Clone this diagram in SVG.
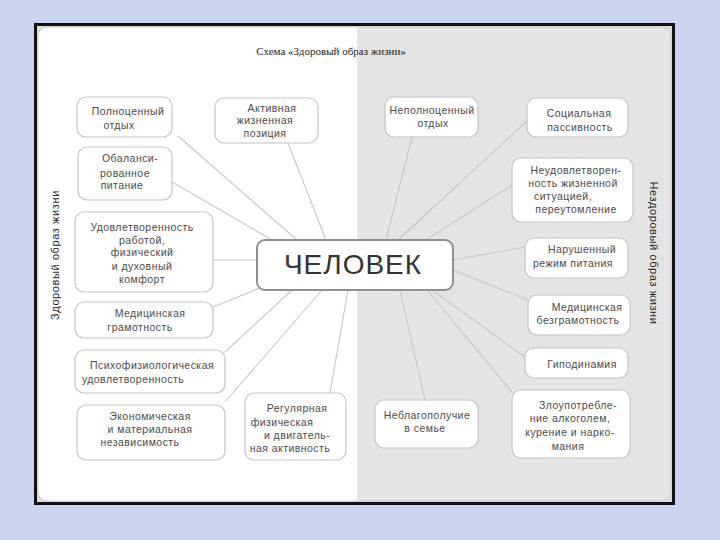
<svg xmlns="http://www.w3.org/2000/svg" width="720" height="540" viewBox="0 0 720 540">
<defs>
<style>
.box{fill:#ffffff;stroke:#c4c4c4;stroke-width:1.2}
.t{font-family:"Liberation Sans",Arial,sans-serif;font-size:10.5px;fill:#4a4a4a;letter-spacing:0.45px;text-anchor:middle}
.side{font-family:"Liberation Sans",Arial,sans-serif;font-size:11px;fill:#2a2a2a;text-anchor:middle;letter-spacing:0.6px}
.c line{stroke:#c6c6c6;stroke-width:1.1}
</style>
<clipPath id="inner"><rect x="38" y="27" width="633" height="474" rx="9"/></clipPath>
</defs>
<rect x="0" y="0" width="720" height="540" fill="#c9d4f0"/>
<rect x="35.5" y="24.5" width="638" height="479" fill="#dcdcdc" stroke="#111111" stroke-width="3"/>
<g clip-path="url(#inner)">
<rect x="38" y="27" width="633" height="474" fill="#ffffff"/>
<rect x="357" y="27" width="314" height="474" fill="#e4e4e4"/>
</g>
<rect x="38" y="27" width="633" height="474" rx="9" fill="none" stroke="#c8c8c8" stroke-width="1"/>
<text x="331" y="55" style="font-family:'Liberation Serif',serif;font-size:11px;fill:#222" text-anchor="middle">Схема «Здоровый образ жизни»</text>
<text class="side" transform="translate(59,255) rotate(-90)">Здоровый образ жизни</text>
<text class="side" transform="translate(650,253) rotate(90)">Нездоровый образ жизни</text>
<g class="c" id="connectors">
<line x1="178" y1="136" x2="297" y2="240"/>
<line x1="288" y1="143" x2="326" y2="240"/>
<line x1="172" y1="182" x2="272" y2="240"/>
<line x1="213" y1="260" x2="257" y2="260"/>
<line x1="213" y1="307" x2="260" y2="288"/>
<line x1="225" y1="352" x2="292" y2="290"/>
<line x1="225" y1="402" x2="322" y2="290"/>
<line x1="330" y1="393" x2="348" y2="290"/>
<line x1="412" y1="137" x2="386" y2="240"/>
<line x1="527" y1="121" x2="398" y2="240"/>
<line x1="512" y1="185" x2="426" y2="240"/>
<line x1="453" y1="260" x2="525" y2="247"/>
<line x1="453" y1="270" x2="528" y2="300"/>
<line x1="432" y1="290" x2="525" y2="357"/>
<line x1="427" y1="290" x2="512" y2="392"/>
<line x1="400" y1="290" x2="425" y2="400"/>
</g>
<g id="n-center">
<rect x="257" y="240" width="196" height="50" rx="8" fill="#ffffff" stroke="#909090" stroke-width="2"/>
<text x="353" y="274" style="font-family:'Liberation Sans',Arial,sans-serif;font-size:28px;fill:#333;letter-spacing:1px" text-anchor="middle">ЧЕЛОВЕК</text>
</g>
<g id="n1"><rect class="box" x="77" y="97" width="95" height="40" rx="9"/>
<text class="t" x="128" y="115">Полноценный</text><text class="t" x="119" y="129">отдых</text></g>
<g id="n2"><rect class="box" x="215" y="98" width="103" height="45" rx="9"/>
<text class="t" x="272" y="112">Активная</text><text class="t" x="265" y="124">жизненная</text><text class="t" x="265" y="137">позиция</text></g>
<g id="n3"><rect class="box" x="78" y="147" width="94" height="53" rx="9"/>
<text class="t" x="130" y="162">Обаланси-</text><text class="t" x="125" y="177">рованное</text><text class="t" x="122" y="189">питание</text></g>
<g id="n4"><rect class="box" x="75" y="212" width="138" height="80" rx="9"/>
<text class="t" x="142" y="231">Удовлетворенность</text><text class="t" x="142" y="244">работой,</text><text class="t" x="142" y="256">физический</text><text class="t" x="142" y="270">и духовный</text><text class="t" x="142" y="283">комфорт</text></g>
<g id="n5"><rect class="box" x="75" y="302" width="138" height="36" rx="9"/>
<text class="t" x="150" y="317">Медицинская</text><text class="t" x="140" y="331">грамотность</text></g>
<g id="n6"><rect class="box" x="75" y="350" width="150" height="43" rx="9"/>
<text class="t" x="152" y="369">Психофизиологическая</text><text class="t" x="133" y="383">удовлетворенность</text></g>
<g id="n7"><rect class="box" x="77" y="405" width="148" height="55" rx="9"/>
<text class="t" x="150" y="420">Экономическая</text><text class="t" x="150" y="433">и материальная</text><text class="t" x="140" y="446">независимость</text></g>
<g id="n8"><rect class="box" x="245" y="393" width="101" height="67" rx="9"/>
<text class="t" x="297" y="412">Регулярная</text><text class="t" x="282" y="426">физическая</text><text class="t" x="297" y="439">и двигатель-</text><text class="t" x="290" y="452">ная активность</text></g>
<g id="n9"><rect class="box" x="385" y="97" width="93" height="40" rx="9"/>
<text class="t" x="432" y="114">Неполноценный</text><text class="t" x="433" y="127">отдых</text></g>
<g id="n10"><rect class="box" x="527" y="98" width="101" height="39" rx="9"/>
<text class="t" x="579" y="117">Социальная</text><text class="t" x="580" y="131">пассивность</text></g>
<g id="n11"><rect class="box" x="512" y="158" width="121" height="64" rx="9"/>
<text class="t" x="576" y="174">Неудовлетворен-</text><text class="t" x="573" y="187">ность жизненной</text><text class="t" x="563" y="200">ситуацией,</text><text class="t" x="576" y="213">переутомление</text></g>
<g id="n12"><rect class="box" x="525" y="238" width="103" height="40" rx="9"/>
<text class="t" x="582" y="253">Нарушенный</text><text class="t" x="573" y="267">режим питания</text></g>
<g id="n13"><rect class="box" x="528" y="295" width="102" height="40" rx="9"/>
<text class="t" x="587" y="311">Медицинская</text><text class="t" x="578" y="324">безграмотность</text></g>
<g id="n14"><rect class="box" x="525" y="348" width="103" height="30" rx="9"/>
<text class="t" x="582" y="368">Гиподинамия</text></g>
<g id="n15"><rect class="box" x="512" y="390" width="118" height="68" rx="9"/>
<text class="t" x="578" y="409">Злоупотребле-</text><text class="t" x="570" y="422">ние алкоголем,</text><text class="t" x="570" y="436">курение и нарко-</text><text class="t" x="568" y="450">мания</text></g>
<g id="n16"><rect class="box" x="375" y="400" width="103" height="48" rx="9"/>
<text class="t" x="427" y="419">Неблагополучие</text><text class="t" x="425" y="432">в семье</text></g>
</svg>
